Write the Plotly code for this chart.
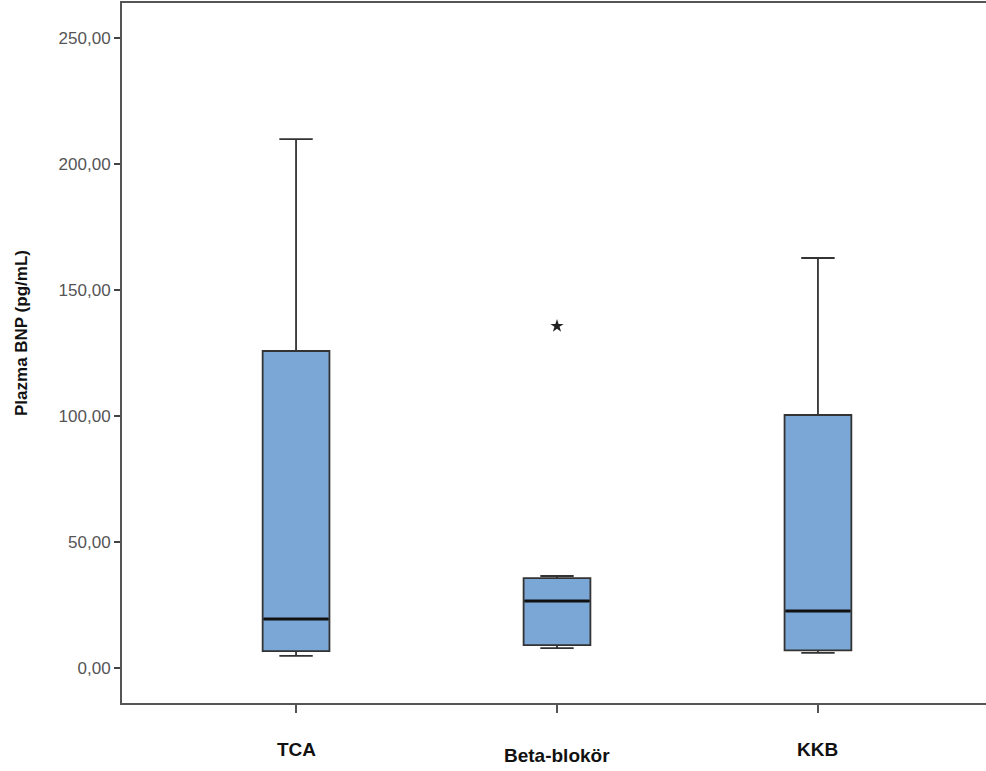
import plotly.graph_objects as go

categories = ["TCA", "Beta-blokör", "KKB"]
lower_whisker = [4.8, 7.9, 6.0]
q1 = [6.7, 9.1, 7.0]
median = [19.4, 26.6, 22.6]
q3 = [125.8, 35.7, 100.4]
upper_whisker = [209.9, 36.5, 162.7]
outlier_cat = [1]
outlier_val = [135.7]
y_tick_vals = [0, 50, 100, 150, 200, 250]

box_width = 0.256
fill = "#7aa7d6"
edge = "#333333"
label_shift = [-46, -52, -46]

fig = go.Figure()
for i, c in enumerate(categories):
    fig.add_trace(go.Box(
        x=[i], q1=[q1[i]], median=[median[i]], q3=[q3[i]],
        lowerfence=[lower_whisker[i]], upperfence=[upper_whisker[i]],
        width=box_width, whiskerwidth=0.5,
        fillcolor=fill, line=dict(color=edge, width=1.8),
        boxpoints=False, showlegend=False, hoverinfo="skip",
    ))
    fig.add_trace(go.Scatter(
        x=[i - box_width / 2 + 0.004, i + box_width / 2 - 0.004],
        y=[median[i], median[i]], mode="lines",
        line=dict(color="#111111", width=3), showlegend=False, hoverinfo="skip",
    ))

fig.add_trace(go.Scatter(
    x=outlier_cat, y=outlier_val, mode="markers",
    marker=dict(symbol="star", size=10, color="#222222"),
    showlegend=False, hoverinfo="skip",
))

annotations = [dict(
    text="<b>Plazma BNP (pg/mL)</b>", xref="paper", yref="paper",
    x=0, y=1 - 330 / 700, xshift=-101, textangle=-90,
    showarrow=False, font=dict(size=17, color="#111111"),
    xanchor="center", yanchor="middle",
)]
for i, c in enumerate(categories):
    annotations.append(dict(
        text="<b>" + c + "</b>", xref="x", yref="paper", x=i, y=0,
        yshift=label_shift[i], showarrow=False, xanchor="center", yanchor="middle",
        font=dict(size=19, color="#111111"),
    ))

fig.update_layout(
    width=986, height=771,
    margin=dict(l=122, r=0, t=3, b=68),
    paper_bgcolor="white", plot_bgcolor="white",
    separators=",.",
    font=dict(family="Arial, Liberation Sans, sans-serif"),
    xaxis=dict(
        range=[-0.667, 2.644], tickvals=[0, 1, 2], ticktext=["", "", ""],
        showline=True, linecolor="#555555", linewidth=2, mirror=True,
        ticks="outside", ticklen=8, tickcolor="#555555", tickwidth=1.5,
        showgrid=False, zeroline=False,
    ),
    yaxis=dict(
        range=[-13.89, 263.89], tickvals=y_tick_vals, tickformat=".2f",
        showline=True, linecolor="#555555", linewidth=2,
        ticks="outside", ticklen=6, tickcolor="#444444", tickwidth=2,
        showgrid=False, zeroline=False,
        tickfont=dict(size=17, color="#555555"),
    ),
    annotations=annotations,
)

fig.write_html(
    "out.html",
    config={"displayModeBar": False},
    post_script="document.body.style.margin='0';document.body.style.overflow='hidden';",
)
